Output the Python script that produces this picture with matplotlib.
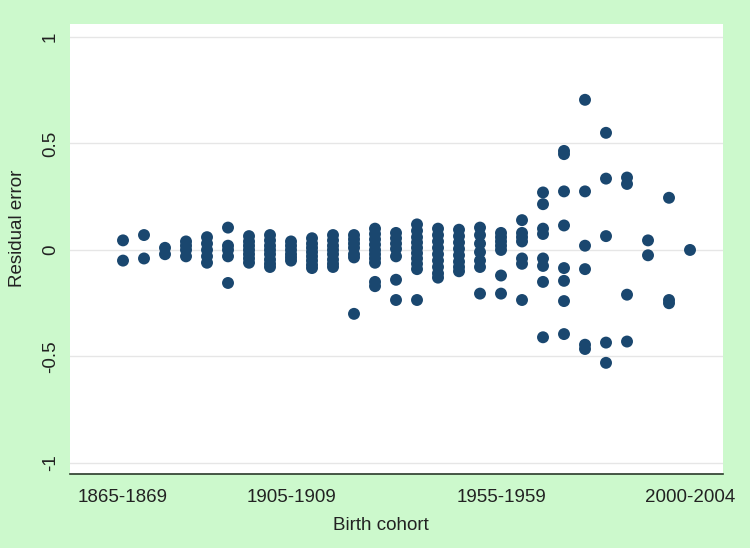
import matplotlib
matplotlib.use("Agg")
import matplotlib.pyplot as plt

plt.rcParams['font.family'] = ['Liberation Sans', 'DejaVu Sans']

cohorts = [f"{y}-{y+4}" for y in range(1865, 2001, 5)]
shown_ticks = ["1865-1869", "1905-1909", "1955-1959", "2000-2004"]

res_1865 = [0.045, -0.05]
res_1870 = [0.07, -0.04]
res_1875 = [0.01, -0.02]
res_1880 = [0.04, 0.02, 0.0, -0.03]
res_1885 = [0.06, 0.03, 0.0, -0.03, -0.06]
res_1890 = [0.105, 0.02, 0.0, -0.03, -0.155]
res_1895 = [0.065, 0.04, 0.02, 0.0, -0.02, -0.04, -0.06]
res_1900 = [0.07, 0.045, 0.02, 0.0, -0.02, -0.045, -0.065, -0.08]
res_1905 = [0.04, 0.02, 0.0, -0.02, -0.035, -0.05]
res_1910 = [0.055, 0.03, 0.01, -0.01, -0.03, -0.05, -0.07, -0.085]
res_1915 = [0.07, 0.045, 0.02, 0.0, -0.02, -0.045, -0.065, -0.08]
res_1920 = [0.07, 0.05, 0.03, 0.01, -0.02, -0.035, -0.30]
res_1925 = [0.10, 0.075, 0.05, 0.025, 0.0, -0.02, -0.04, -0.06, -0.15, -0.17]
res_1930 = [0.08, 0.055, 0.03, 0.005, -0.03, -0.14, -0.235]
res_1935 = [0.12, 0.09, 0.06, 0.035, 0.01, -0.015, -0.04, -0.065, -0.09, -0.235]
res_1940 = [0.10, 0.07, 0.04, 0.01, -0.02, -0.05, -0.08, -0.11, -0.13]
res_1945 = [0.095, 0.065, 0.035, 0.005, -0.025, -0.055, -0.08, -0.10]
res_1950 = [0.105, 0.07, 0.03, -0.01, -0.05, -0.08, -0.205]
res_1955 = [0.08, 0.06, 0.04, 0.02, 0.0, -0.12, -0.205]
res_1960 = [0.14, 0.08, 0.06, 0.04, -0.04, -0.065, -0.235]
res_1965 = [0.27, 0.215, 0.10, 0.075, -0.04, -0.075, -0.15, -0.41]
res_1970 = [0.465, 0.45, 0.275, 0.115, -0.085, -0.145, -0.24, -0.395]
res_1975 = [0.705, 0.275, 0.02, -0.09, -0.445, -0.465]
res_1980 = [0.55, 0.335, 0.065, -0.435, -0.53]
res_1985 = [0.34, 0.31, -0.21, -0.43]
res_1990 = [0.045, -0.025]
res_1995 = [0.245, -0.235, -0.25]
res_2000 = [0.0]

residuals = [res_1865, res_1870, res_1875, res_1880, res_1885, res_1890, res_1895,
             res_1900, res_1905, res_1910, res_1915, res_1920, res_1925, res_1930,
             res_1935, res_1940, res_1945, res_1950, res_1955, res_1960, res_1965,
             res_1970, res_1975, res_1980, res_1985, res_1990, res_1995, res_2000]

W, H = 750, 548
green = '#ccf9cc'
fig = plt.figure(figsize=(W / 100, H / 100), dpi=100, facecolor=green)
ax = fig.add_axes([70 / W, (H - 474) / H, 653 / W, 450 / H])
ax.set_facecolor('white')

xs, ys = [], []
for i, vals in enumerate(residuals):
    xs.extend([i] * len(vals))
    ys.extend(vals)
ax.scatter(xs, ys, s=74, color='#1a476f', edgecolors='none', zorder=3)

ax.set_xlim(-2.524, 28.571)
ax.set_ylim(-1.052, 1.061)
ax.set_yticks([-1, -0.5, 0, 0.5, 1])
ax.set_yticklabels(['-1', '-0.5', '0', '0.5', '1'])
ax.set_xticks([cohorts.index(c) for c in shown_ticks])
ax.set_xticklabels(shown_ticks)
ax.grid(axis='y', color='#e6e6e6', linewidth=1.0, zorder=0)
ax.set_axisbelow(True)

for side in ['left', 'right', 'top']:
    ax.spines[side].set_visible(False)
ax.spines['bottom'].set_color('#2a3a2a')
ax.spines['bottom'].set_linewidth(1.2)

ax.tick_params(axis='both', length=0, labelsize=13.5, colors='#222222')
ax.tick_params(axis='x', pad=11)
ax.tick_params(axis='y', pad=8, labelrotation=90)
for lab in ax.get_yticklabels():
    lab.set_va('center')

ax.set_xlabel('Birth cohort', fontsize=13.5, color='#222222')
ax.xaxis.set_label_coords((381 - 70) / 653, (474 - 525) / 450)
ax.set_ylabel('Residual error', fontsize=13.5, color='#222222')
ax.yaxis.set_label_coords((18 - 70) / 653, (474 - 228) / 450)
ax.xaxis.label.set_va('center')
ax.yaxis.label.set_va('center')

fig.savefig('out.png', dpi=100, facecolor=green)
